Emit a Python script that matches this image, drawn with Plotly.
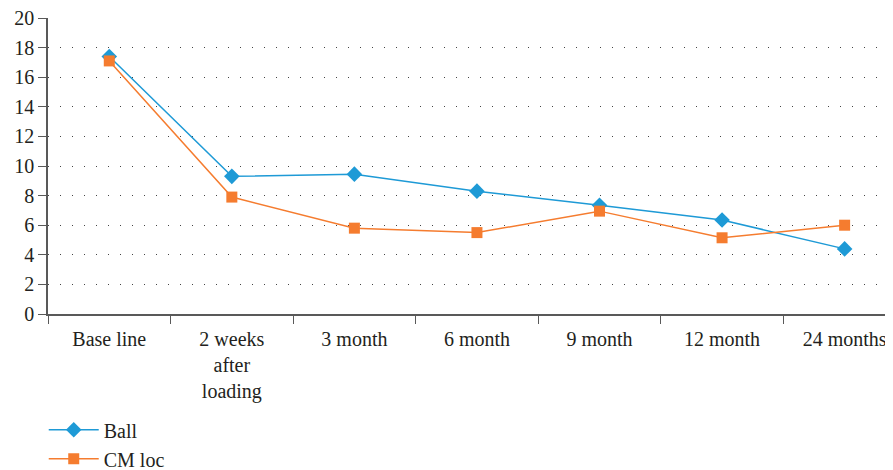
import plotly.graph_objects as go

categories = ["Base line", "2 weeks<br>after<br>loading", "3 month", "6 month", "9 month", "12 month", "24 months"]
ball = [17.4, 9.3, 9.45, 8.3, 7.35, 6.35, 4.4]
cm_loc = [17.1, 7.9, 5.8, 5.5, 6.95, 5.15, 6.0]
y_ticks = list(range(0, 21, 2))

font_family = "Liberation Serif"

fig = go.Figure()
fig.add_trace(go.Scatter(
    x=categories, y=ball, name="Ball", mode="lines+markers",
    line=dict(color="#1e9ad6", width=1.5),
    marker=dict(symbol="diamond", size=12, color="#1e9ad6"),
))
fig.add_trace(go.Scatter(
    x=categories, y=cm_loc, name="CM loc", mode="lines+markers",
    line=dict(color="#f57c2f", width=1.5),
    marker=dict(symbol="square", size=11, color="#f57c2f"),
))

fig.update_layout(
    width=893, height=470,
    margin=dict(l=40, r=0, t=10, b=164, autoexpand=False),
    plot_bgcolor="white", paper_bgcolor="white",
    font=dict(family=font_family, size=20, color="#231f20"),
    showlegend=True,
    legend=dict(x=-0.005, y=-0.325, xanchor="left", yanchor="top",
                orientation="v", font=dict(family=font_family, size=20),
                tracegroupgap=0, itemwidth=50),
    xaxis=dict(
        type="category", range=[-0.5, 6.46], automargin=False,
        showline=True, linecolor="#595959", linewidth=1.5,
        ticks="outside", tickson="boundaries", ticklen=8, tickcolor="#595959",
        showgrid=False, zeroline=False, ticklabelstandoff=6,
        ticklabeloverflow="allow",
        tickfont=dict(family=font_family, size=20),
    ),
    yaxis=dict(
        range=[0, 20], tickvals=y_ticks, automargin=False,
        showline=True, linecolor="#595959", linewidth=1.5,
        ticks="outside", ticklen=8, tickcolor="#595959",
        showgrid=True, gridcolor="#444444", griddash="1px,11px", gridwidth=1.2,
        zeroline=False, ticklabeloverflow="allow",
        tickfont=dict(family=font_family, size=20),
    ),
)

fig.write_html("out.html")
